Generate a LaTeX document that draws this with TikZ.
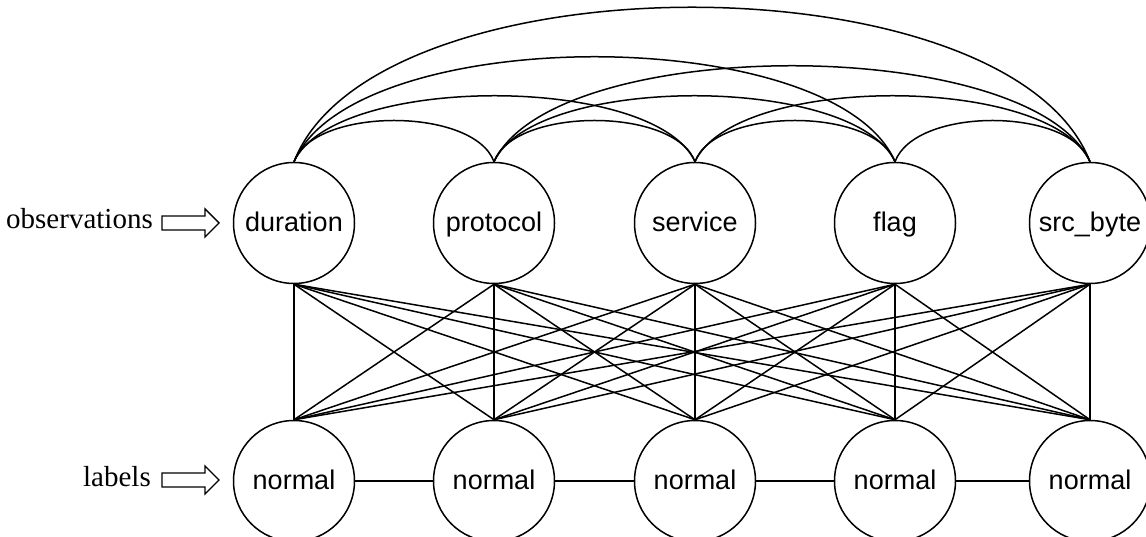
\documentclass[tikz,border=0pt]{standalone}
\usepackage{fontspec}
\setmainfont{Liberation Serif}
\setsansfont{Liberation Sans}
\usetikzlibrary{calc}
\begin{document}
\begin{tikzpicture}[x=1pt,y=1pt,
  var/.style={circle,draw,line width=1.5pt,minimum size=121pt,inner sep=0pt,
    text height=21pt,text depth=4pt,
    font=\sffamily\fontsize{27}{30}\selectfont},
  edge/.style={line width=1.5pt},
  hollow/.style={draw,line width=1.4pt,line join=miter},
  side/.style={inner sep=0pt,font=\rmfamily\fontsize{29}{32}\selectfont}]
\useasboundingbox (0,0) rectangle (1146,537);

% observation layer
\node[var] (t1) at (294,314) {duration};
\node[var] (t2) at (494,314) {protocol};
\node[var] (t3) at (695,314) {service};
\node[var] (t4) at (895,314) {flag};
\node[var] (t5) at (1090,314) {src\_byte};

% label layer
\foreach \i/\x in {1/294,2/494,3/695,4/895,5/1090}
  \node[var] (b\i) at (\x,56) {normal};

% chain between labels
\foreach \i/\j in {1/2,2/3,3/4,4/5}
  \draw[edge] (b\i.east) -- (b\j.west);

% every observation linked to every label
\foreach \i in {1,...,5}
  \foreach \j in {1,...,5}
    \draw[edge] (t\i.south) -- (b\j.north);

% arcs between observations: i/j/side offset/control height
\foreach \i/\j/\a/\k in {1/2/20/55, 2/3/20/55, 3/4/20/55, 4/5/20/55,
                        1/3/40/88, 2/4/40/88, 3/5/40/88,
                        1/4/60/140, 2/5/60/128,
                        1/5/80/206}
  \draw[edge] (t\i.north) .. controls ($(t\i.north)+(\a,\k)$)
                                and ($(t\j.north)+(-\a,\k)$) .. (t\j.north);

% side captions with hollow arrows
\node[side,anchor=base east] (obs) at (153,308) {observations};
\node[side,anchor=base east] (lab) at (151,50) {labels};
\coordinate (oa) at (162,314);
\coordinate (la) at (162,57);
\foreach \c in {oa,la}
  \draw[hollow] (\c) ++(0,7) -- ++(43,0) -- ++(0,7) -- ++(14,-14)
    -- ++(-14,-14) -- ++(0,7) -- ++(-43,0) -- cycle;
\end{tikzpicture}
\end{document}
